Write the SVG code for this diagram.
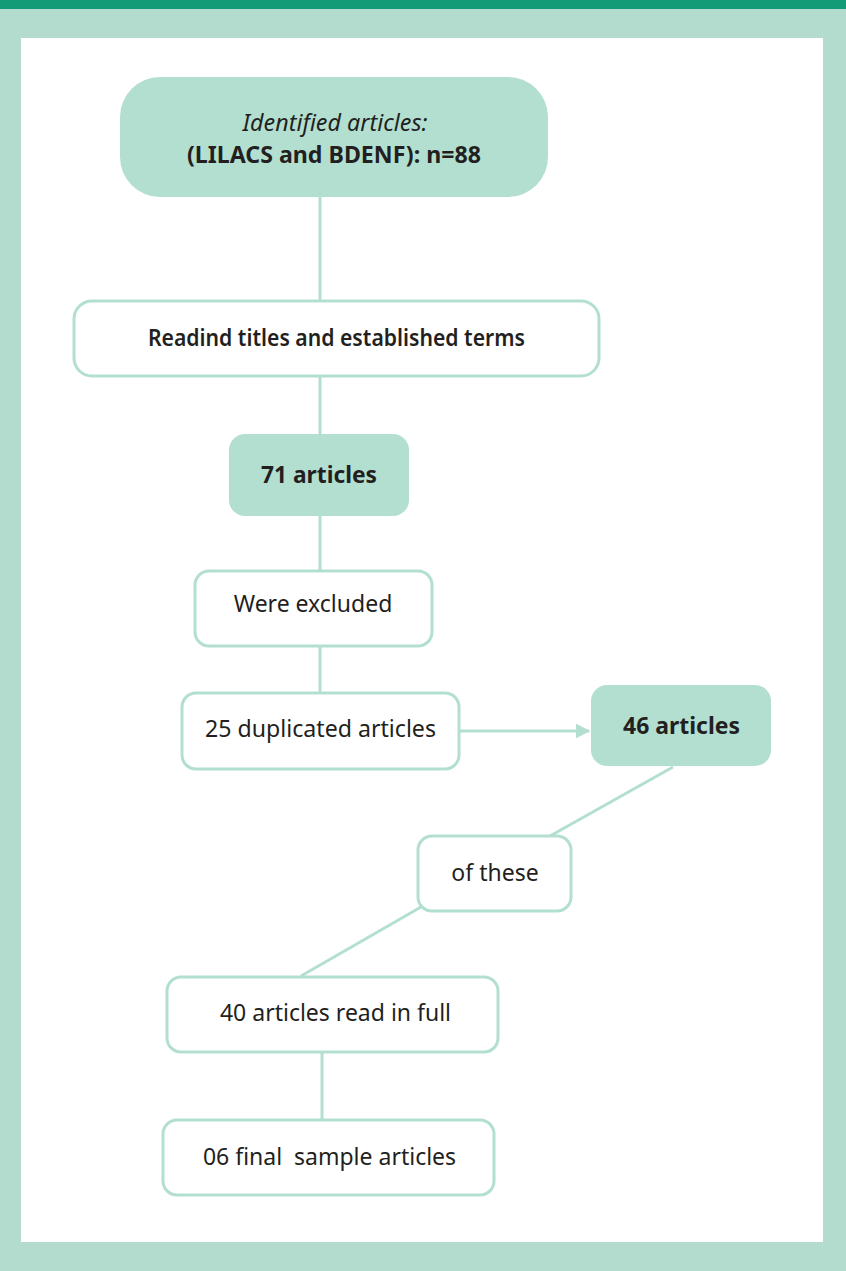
<svg xmlns="http://www.w3.org/2000/svg" width="846" height="1271" viewBox="0 0 846 1271">
<defs>
<style>
.fill{fill:#b3dfd1;}
.box{fill:#ffffff;stroke:#b3dfd1;stroke-width:3;}
.t{font-family:"Noto Sans","Open Sans",sans-serif;font-size:23px;fill:#231f20;text-anchor:middle;}
.b{font-weight:bold;}
.i{font-style:italic;}
.c{stroke:#b3dfd1;stroke-width:3;fill:none;}
</style>
<marker id="arr" viewBox="0 0 10 10" refX="9" refY="5" markerWidth="5" markerHeight="5" orient="auto" markerUnits="strokeWidth">
<path d="M0,0 L10,5 L0,10 z" fill="#b3dfd1"/>
</marker>
</defs>
<rect x="0" y="0" width="846" height="1271" fill="#b3dcce"/>
<rect x="0" y="0" width="846" height="9" fill="#139b77"/>
<rect x="21" y="38" width="802" height="1204" fill="#ffffff"/>
<g id="connectors">
<line class="c" x1="320" y1="197" x2="320" y2="300"/>
<line class="c" x1="320" y1="377" x2="320" y2="434"/>
<line class="c" x1="320" y1="516" x2="320" y2="570"/>
<line class="c" x1="320" y1="646" x2="320" y2="692"/>
<line class="c" x1="460" y1="731" x2="589" y2="731" marker-end="url(#arr)"/>
<line class="c" x1="673" y1="767" x2="550" y2="836"/>
<line class="c" x1="421" y1="907" x2="301" y2="976"/>
<line class="c" x1="322" y1="1052" x2="322" y2="1119"/>
</g>
<g id="n1">
<rect class="fill" x="120" y="77" width="428" height="120" rx="40"/>
<text class="t i" x="335" y="131" textLength="185" lengthAdjust="spacingAndGlyphs">Identified articles:</text>
<text class="t b" x="334" y="163" textLength="294" lengthAdjust="spacingAndGlyphs">(LILACS and BDENF): n=88</text>
</g>
<g id="n2">
<rect class="box" x="74" y="301" width="525" height="75" rx="18"/>
<text class="t" x="336.5" y="346" style="font-weight:600" textLength="377" lengthAdjust="spacingAndGlyphs">Readind titles and established terms</text>
</g>
<g id="n3">
<rect class="fill" x="229" y="434" width="180" height="82" rx="16"/>
<text class="t b" x="319" y="483" textLength="116" lengthAdjust="spacingAndGlyphs">71 articles</text>
</g>
<g id="n4">
<rect class="box" x="195" y="571" width="237" height="75" rx="14"/>
<text class="t" x="313" y="612">Were excluded</text>
</g>
<g id="n5">
<rect class="box" x="182" y="693" width="277" height="76" rx="14"/>
<text class="t" x="320.5" y="737" textLength="231" lengthAdjust="spacingAndGlyphs">25 duplicated articles</text>
</g>
<g id="n6">
<rect class="fill" x="591" y="685" width="180" height="81" rx="16"/>
<text class="t b" x="681.5" y="734" textLength="117" lengthAdjust="spacingAndGlyphs">46 articles</text>
</g>
<g id="n7">
<rect class="box" x="418" y="836" width="153" height="75" rx="14"/>
<text class="t" x="495" y="881">of these</text>
</g>
<g id="n8">
<rect class="box" x="167" y="977" width="331" height="75" rx="14"/>
<text class="t" x="335.5" y="1021">40 articles read in full</text>
</g>
<g id="n9">
<rect class="box" x="163" y="1120" width="331" height="75" rx="14"/>
<text class="t" x="329.5" y="1165" xml:space="preserve">06 final  sample articles</text>
</g>
</svg>
